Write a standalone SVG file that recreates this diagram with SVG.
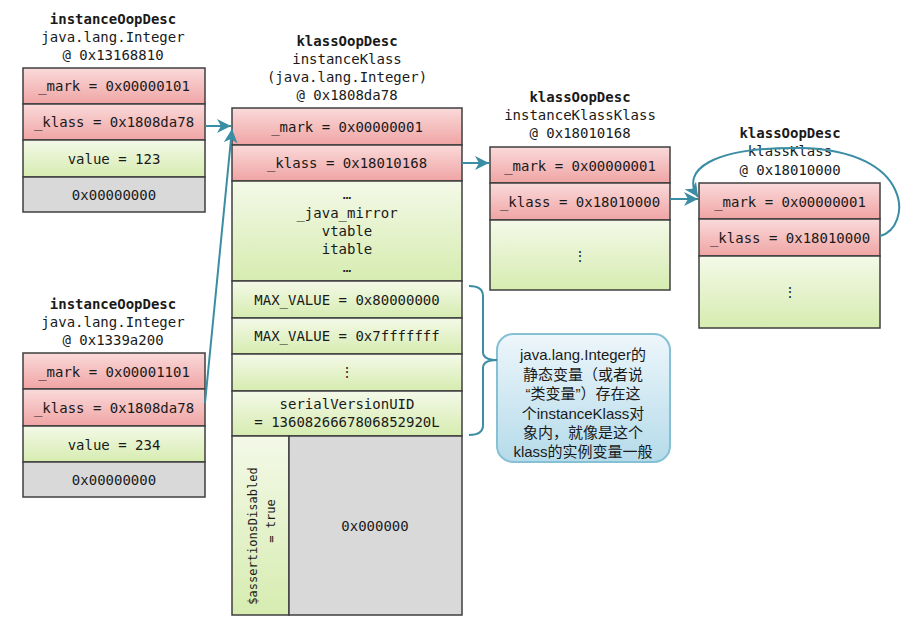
<svg xmlns="http://www.w3.org/2000/svg" width="911" height="627" viewBox="0 0 911 627">
<defs>
  <linearGradient id="pink" x1="0" y1="0" x2="0" y2="1">
    <stop offset="0" stop-color="#fadada"/>
    <stop offset="1" stop-color="#f0a4a4"/>
  </linearGradient>
  <linearGradient id="green" x1="0" y1="0" x2="0" y2="1">
    <stop offset="0" stop-color="#f4f9e8"/>
    <stop offset="1" stop-color="#d6ecb0"/>
  </linearGradient>
  <linearGradient id="blue" x1="0" y1="0" x2="0" y2="1">
    <stop offset="0" stop-color="#edf6fb"/>
    <stop offset="1" stop-color="#b5dbea"/>
  </linearGradient>
  <marker id="arr" markerUnits="userSpaceOnUse" markerWidth="16" markerHeight="14" refX="14" refY="7" orient="auto">
    <path d="M0,0 L14,7 L0,14 L4,7 z" fill="#3a8da3"/>
  </marker>
</defs>
<style>
  .p{fill:url(#pink);stroke:#3f3f3f;stroke-width:1.5}
  .g{fill:url(#green);stroke:#3f3f3f;stroke-width:1.5}
  .gr{fill:#d9d9d9;stroke:#3f3f3f;stroke-width:1.5}
  text{font-family:"DejaVu Sans Mono","Liberation Mono",monospace;font-size:14px;fill:#1a1a1a;text-anchor:middle}
  .b{font-weight:bold}
  .s{font-size:12px}
  .cn{font-family:"Liberation Sans","Noto Sans CJK SC",sans-serif;font-size:15px}
  .c{fill:none;stroke:#3a8da3;stroke-width:2}
</style>

<g id="inst1">
  <text x="113" y="24" class="b">instanceOopDesc</text>
  <text x="113" y="42">java.lang.Integer</text>
  <text x="113" y="60">@ 0x13168810</text>
  <rect x="23" y="68" width="182" height="36" class="p"/>
  <rect x="23" y="104" width="182" height="36" class="p"/>
  <rect x="23" y="140" width="182" height="37" class="g"/>
  <rect x="23" y="177" width="182" height="35" class="gr"/>
  <text x="114" y="91">_mark = 0x00000101</text>
  <text x="114" y="127">_klass = 0x1808da78</text>
  <text x="114" y="164">value = 123</text>
  <text x="114" y="200">0x00000000</text>
</g>

<g id="inst2">
  <text x="113" y="309" class="b">instanceOopDesc</text>
  <text x="113" y="327">java.lang.Integer</text>
  <text x="113" y="345">@ 0x1339a200</text>
  <rect x="23" y="353" width="182" height="36" class="p"/>
  <rect x="23" y="389" width="182" height="37" class="p"/>
  <rect x="23" y="426" width="182" height="36" class="g"/>
  <rect x="23" y="462" width="182" height="35" class="gr"/>
  <text x="114" y="377">_mark = 0x00001101</text>
  <text x="114" y="413">_klass = 0x1808da78</text>
  <text x="114" y="450">value = 234</text>
  <text x="114" y="485">0x00000000</text>
</g>

<g id="instanceKlass">
  <text x="347" y="46" class="b">klassOopDesc</text>
  <text x="347" y="64">instanceKlass</text>
  <text x="347" y="82">(java.lang.Integer)</text>
  <text x="347" y="100">@ 0x1808da78</text>
  <rect x="232" y="108" width="230" height="37" class="p"/>
  <rect x="232" y="145" width="230" height="36" class="p"/>
  <rect x="232" y="181" width="230" height="100" class="g"/>
  <rect x="232" y="281" width="230" height="37" class="g"/>
  <rect x="232" y="318" width="230" height="36" class="g"/>
  <rect x="232" y="354" width="230" height="37" class="g"/>
  <rect x="232" y="391" width="230" height="45" class="g"/>
  <rect x="232" y="436" width="57" height="179" class="g"/>
  <rect x="289" y="436" width="173" height="179" class="gr"/>
  <text x="347" y="132">_mark = 0x00000001</text>
  <text x="347" y="168">_klass = 0x18010168</text>
  <text x="347" y="199">…</text>
  <text x="347" y="218">_java_mirror</text>
  <text x="347" y="236">vtable</text>
  <text x="347" y="254">itable</text>
  <text x="347" y="272">…</text>
  <text x="347" y="305">MAX_VALUE = 0x80000000</text>
  <text x="347" y="341">MAX_VALUE = 0x7fffffff</text>
  <text x="347" y="377">⋮</text>
  <text x="347" y="409">serialVersionUID</text>
  <text x="347" y="427">= 1360826667806852920L</text>
  <text x="375" y="531">0x000000</text>
  <text transform="translate(257,536) rotate(-90)" class="s">$assertionsDisabled</text>
  <text transform="translate(275,521) rotate(-90)" class="s">= true</text>
</g>

<g id="instanceKlassKlass">
  <text x="580" y="102" class="b">klassOopDesc</text>
  <text x="580" y="120">instanceKlassKlass</text>
  <text x="580" y="138">@ 0x18010168</text>
  <rect x="490" y="147" width="180" height="36" class="p"/>
  <rect x="490" y="183" width="180" height="37" class="p"/>
  <rect x="490" y="220" width="180" height="70" class="g"/>
  <text x="580" y="171">_mark = 0x00000001</text>
  <text x="580" y="207">_klass = 0x18010000</text>
  <text x="580" y="261">⋮</text>
</g>

<g id="klassKlass">
  <text x="790" y="138" class="b">klassOopDesc</text>
  <text x="790" y="156">klassKlass</text>
  <text x="790" y="175">@ 0x18010000</text>
  <rect x="699" y="183" width="181" height="36" class="p"/>
  <rect x="699" y="219" width="181" height="37" class="p"/>
  <rect x="699" y="256" width="181" height="72" class="g"/>
  <text x="790" y="207">_mark = 0x00000001</text>
  <text x="790" y="243">_klass = 0x18010000</text>
  <text x="790" y="297">⋮</text>
</g>

<g id="note">
  <rect x="497" y="334" width="173" height="128" rx="16" fill="url(#blue)" stroke="#86c0d4" stroke-width="2"/>
  <text x="583" y="360" class="cn">java.lang.Integer的</text>
  <text x="583" y="380" class="cn">静态变量（或者说</text>
  <text x="583" y="399" class="cn">“类变量”）存在这</text>
  <text x="583" y="419" class="cn">个instanceKlass对</text>
  <text x="583" y="438" class="cn">象内，就像是这个</text>
  <text x="583" y="457" class="cn">klass的实例变量一般</text>
</g>

<g id="connectors">
  <path class="c" d="M205,126 L231,126" marker-end="url(#arr)"/>
  <path class="c" d="M205,403 L232,129" marker-end="url(#arr)"/>
  <path class="c" d="M462,163 L489,163" marker-end="url(#arr)"/>
  <path class="c" d="M670,199 L698,199" marker-end="url(#arr)"/>
  <path class="c" d="M880,236 C912,228 915,150 800,148 C712,147 680,170 698,197" marker-end="url(#arr)"/>
  <path class="c" d="M469,286 Q483,286 483,296 L483,352 Q483,360 497,360 Q483,360 483,368 L483,425 Q483,435 469,435"/>
</g>
</svg>
